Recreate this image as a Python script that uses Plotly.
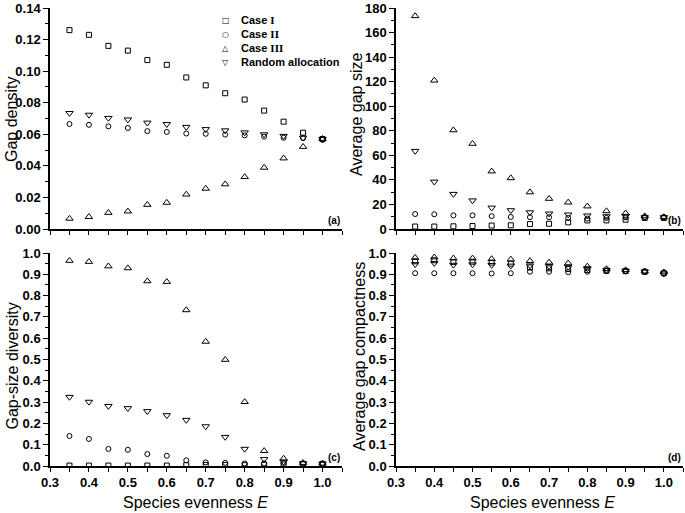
import plotly.graph_objects as go

# ---------------- data ----------------
evenness = [0.35, 0.40, 0.45, 0.50, 0.55, 0.60, 0.65, 0.70, 0.75, 0.80, 0.85, 0.90, 0.95, 1.00]
series_names = ["Case I", "Case II", "Case III", "Random allocation"]

# (a) Gap density
a_case1 = [0.126, 0.123, 0.116, 0.113, 0.107, 0.104, 0.096, 0.091, 0.086, 0.082, 0.075, 0.068, 0.061, 0.057]
a_case2 = [0.0665, 0.066, 0.065, 0.064, 0.062, 0.0615, 0.0605, 0.0603, 0.0598, 0.0593, 0.0585, 0.0578, 0.0575, 0.0565]
a_case3 = [0.0066, 0.0077, 0.0103, 0.0112, 0.0154, 0.0167, 0.0219, 0.0256, 0.0284, 0.033, 0.0389, 0.0448, 0.0521, 0.0572]
a_rand = [0.0734, 0.0723, 0.0703, 0.0693, 0.0673, 0.0664, 0.0646, 0.0632, 0.0624, 0.0611, 0.0599, 0.0589, 0.0578, 0.0569]

# (b) Average gap size
b_case1 = [2.0, 2.0, 2.2, 2.4, 2.8, 3.0, 4.0, 4.3, 5.4, 7.0, 7.0, 7.6, 9.0, 9.0]
b_case2 = [12.2, 12.0, 11.1, 11.1, 10.5, 9.8, 9.6, 9.6, 9.0, 8.5, 9.0, 9.5, 9.6, 9.6]
b_case3 = [173.5, 121.0, 80.5, 69.5, 47.0, 41.5, 30.0, 24.7, 21.7, 18.5, 14.6, 12.8, 10.5, 9.8]
b_rand = [63.5, 38.5, 28.5, 23.2, 17.3, 15.2, 13.5, 12.5, 11.7, 10.9, 10.3, 10.5, 9.5, 9.5]

# (c) Gap-size diversity
c_case1 = [0.002, 0.002, 0.002, 0.002, 0.002, 0.002, 0.004, 0.005, 0.005, 0.004, 0.006, 0.007, 0.010, 0.010]
c_case2 = [0.141, 0.127, 0.080, 0.076, 0.056, 0.048, 0.027, 0.017, 0.015, 0.012, 0.012, 0.014, 0.011, 0.010]
c_case3 = [0.964, 0.959, 0.938, 0.929, 0.868, 0.865, 0.732, 0.584, 0.499, 0.301, 0.071, 0.035, 0.015, 0.012]
c_rand = [0.324, 0.301, 0.281, 0.271, 0.257, 0.238, 0.216, 0.186, 0.136, 0.080, 0.032, 0.020, 0.012, 0.010]

# (d) Average gap compactness
d_case1 = [0.961, 0.966, 0.958, 0.959, 0.955, 0.950, 0.932, 0.928, 0.925, 0.920, 0.917, 0.915, 0.912, 0.905]
d_case2 = [0.905, 0.905, 0.905, 0.905, 0.904, 0.905, 0.912, 0.912, 0.910, 0.912, 0.915, 0.914, 0.912, 0.906]
d_case3 = [0.978, 0.980, 0.975, 0.975, 0.972, 0.970, 0.963, 0.956, 0.952, 0.937, 0.925, 0.920, 0.914, 0.910]
d_rand = [0.947, 0.952, 0.944, 0.946, 0.943, 0.940, 0.941, 0.938, 0.935, 0.928, 0.920, 0.916, 0.912, 0.903]

x_tick_vals = [0.3, 0.4, 0.5, 0.6, 0.7, 0.8, 0.9, 1.0]
x_tick_text = ["0.3", "0.4", "0.5", "0.6", "0.7", "0.8", "0.9", "1.0"]
a_ticks = [0.00, 0.02, 0.04, 0.06, 0.08, 0.10, 0.12, 0.14]
a_tick_text = ["0.00", "0.02", "0.04", "0.06", "0.08", "0.10", "0.12", "0.14"]
b_ticks = [0, 20, 40, 60, 80, 100, 120, 140, 160, 180]
b_tick_text = ["0", "20", "40", "60", "80", "100", "120", "140", "160", "180"]
cd_ticks = [0.0, 0.1, 0.2, 0.3, 0.4, 0.5, 0.6, 0.7, 0.8, 0.9, 1.0]
cd_tick_text = ["0.0", "0.1", "0.2", "0.3", "0.4", "0.5", "0.6", "0.7", "0.8", "0.9", "1.0"]

y_titles = ["Gap density", "Average gap size", "Gap-size diversity", "Average gap compactness"]
x_title = "Species evenness <i>E</i>"
panel_tags = ["(a)", "(b)", "(c)", "(d)"]

# ---------------- styling ----------------
W, H = 685, 513
FONT = "Liberation Sans, Arial, sans-serif"


def px_x(px):
    return px / W


def px_y(py):
    return 1 - py / H


def bold(labels):
    return ["<b>%s</b>" % s for s in labels]


symbols = ["square-open", "circle-open", "triangle-up-open", "triangle-down-open"]
sizes = [5, 5, 6.5, 6.5]
legend_glyphs = ["\u25a1", "\u25cb", "\u25b3", "\u25bd"]
legend_labels = [
    "Case <span style='font-family:Liberation Serif'>I</span>",
    "Case <span style='font-family:Liberation Serif'>II</span>",
    "Case <span style='font-family:Liberation Serif'>III</span>",
    "Random allocation",
]

panels = [
    ("x", "y", [a_case1, a_case2, a_case3, a_rand]),
    ("x2", "y2", [b_case1, b_case2, b_case3, b_rand]),
    ("x3", "y3", [c_case1, c_case2, c_case3, c_rand]),
    ("x4", "y4", [d_case1, d_case2, d_case3, d_rand]),
]

fig = go.Figure()
for pi, (xa, ya, series) in enumerate(panels):
    for si, ys in enumerate(series):
        fig.add_trace(go.Scatter(
            x=evenness, y=ys, xaxis=xa, yaxis=ya, mode="markers",
            name=series_names[si], showlegend=False,
            marker=dict(symbol=symbols[si], size=sizes[si], color="black",
                        line=dict(color="black", width=1)),
        ))

left_dom = [px_x(50), px_x(342)]
right_dom = [px_x(396), px_x(683)]
top_dom = [px_y(229), px_y(8)]
bot_dom = [px_y(466), px_y(253)]

tickfont = dict(family=FONT, size=13, color="black")
titlefont = dict(family=FONT, size=16, color="black")


def xaxis(domain, anchor, show_labels):
    return dict(domain=domain, anchor=anchor, range=[0.3, 1.05],
                showline=True, linecolor="black", linewidth=1.5,
                showgrid=False, zeroline=False, ticks="outside", ticklen=4,
                tickwidth=1.2, tickcolor="black",
                tickvals=x_tick_vals, ticktext=bold(x_tick_text),
                showticklabels=show_labels, tickfont=tickfont,
                minor=dict(dtick=0.05, tick0=0.3, ticks="outside", ticklen=4,
                           tickwidth=1.2, tickcolor="black", showgrid=False))


def yaxis(domain, anchor, rng, tickvals, ticktext, minor_dtick):
    return dict(domain=domain, anchor=anchor, range=rng,
                showline=True, linecolor="black", linewidth=1.5,
                showgrid=False, zeroline=False, ticks="outside", ticklen=5,
                tickwidth=1.2, tickcolor="black",
                tickvals=tickvals, ticktext=bold(ticktext), tickfont=tickfont,
                minor=dict(dtick=minor_dtick, tick0=0, ticks="outside", ticklen=3,
                           tickwidth=1, tickcolor="black", showgrid=False))


fig.update_layout(
    width=W, height=H,
    margin=dict(l=0, r=0, t=0, b=0, autoexpand=False),
    paper_bgcolor="white", plot_bgcolor="white",
    font=dict(family=FONT, color="black"),
    xaxis=xaxis(left_dom, "y", False),
    xaxis2=xaxis(right_dom, "y2", False),
    xaxis3=xaxis(left_dom, "y3", True),
    xaxis4=xaxis(right_dom, "y4", True),
    yaxis=yaxis(top_dom, "x", [0, 0.14], a_ticks, a_tick_text, 0.01),
    yaxis2=yaxis(top_dom, "x2", [0, 180], b_ticks, b_tick_text, 10),
    yaxis3=yaxis(bot_dom, "x3", [0, 1.0], cd_ticks, cd_tick_text, 0.05),
    yaxis4=yaxis(bot_dom, "x4", [0, 1.0], cd_ticks, cd_tick_text, 0.05),
    showlegend=False,
)

# axis titles (window pixel positions converted to paper coordinates)
y_title_pos = [(11, 120), (357, 115), (11.5, 366), (359, 357)]
for (px, py), t in zip(y_title_pos, y_titles):
    fig.add_annotation(text=t, xref="paper", yref="paper", x=px_x(px), y=px_y(py),
                       xanchor="center", yanchor="middle", textangle=-90,
                       showarrow=False, font=titlefont)
for px in (195, 542):
    fig.add_annotation(text=x_title, xref="paper", yref="paper", x=px_x(px), y=px_y(502),
                       xanchor="center", yanchor="middle", showarrow=False, font=titlefont)

# panel tags
for ref, lab in zip(["", "2", "3", "4"], panel_tags):
    fig.add_annotation(text=lab, xref=f"x{ref} domain", yref=f"y{ref} domain",
                       x=1.0, y=0.0, xanchor="right", yanchor="bottom",
                       showarrow=False, xshift=-1, yshift=2, borderpad=0,
                       font=dict(family=FONT, size=10, color="black", weight=700))

# legend (panel a)
legend_rows = [20, 34, 48, 62]
for gy, glyph, lab in zip(legend_rows, legend_glyphs, legend_labels):
    fig.add_annotation(text=glyph, xref="paper", yref="paper", x=px_x(226), y=px_y(gy),
                       xanchor="center", yanchor="middle", showarrow=False, borderpad=0,
                       font=dict(family="DejaVu Sans", size=8, color="black"))
    fig.add_annotation(text=lab, xref="paper", yref="paper", x=px_x(240), y=px_y(gy),
                       xanchor="left", yanchor="middle", showarrow=False, borderpad=0,
                       font=dict(family=FONT, size=11, color="black", weight=700))

# the page's default 8px body margin would push the figure off the window
fig.write_html("out.html", config={"displayModeBar": False},
               post_script="document.body.style.margin='0px';")
